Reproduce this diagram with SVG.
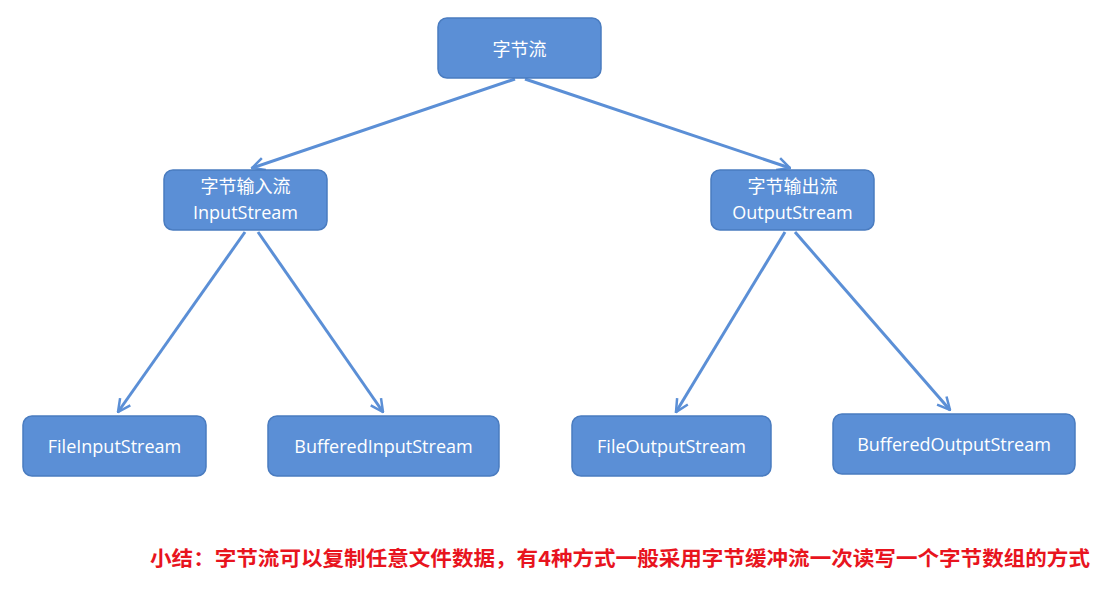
<svg xmlns="http://www.w3.org/2000/svg" width="1113" height="593" viewBox="0 0 1113 593">
<style>
.n{fill:#5b8fd6;stroke:#4a7cc0;stroke-width:1.5}
.t{fill:#fff;font-family:"Open Sans","Noto Sans CJK SC",sans-serif;font-size:18px;text-anchor:middle}
.c{stroke:#5b8fd6;stroke-width:3;fill:none;marker-end:url(#a)}
</style>
<defs><marker id="a" viewBox="0 0 12 12" refX="11" refY="6" markerWidth="5" markerHeight="5" orient="auto" markerUnits="strokeWidth"><path d="M1,1 L11,6 L1,11" fill="none" stroke="#5b8fd6" stroke-width="2"/></marker></defs>
<rect width="1113" height="593" fill="#fff"/>
<g id="connectors">
<line class="c" x1="515" y1="79" x2="252" y2="168"/>
<line class="c" x1="525" y1="79" x2="790" y2="168"/>
<line class="c" x1="245" y1="232" x2="118" y2="412"/>
<line class="c" x1="258" y1="232" x2="383" y2="412"/>
<line class="c" x1="785" y1="232" x2="676" y2="412"/>
<line class="c" x1="795" y1="232" x2="950" y2="410"/>
</g>
<g id="root"><rect class="n" x="438" y="18" width="163" height="60" rx="9"/><text class="t" x="519.5" y="56" font-size="21">字节流</text></g>
<g id="in"><rect class="n" x="164" y="170" width="163" height="60" rx="9"/><text class="t" x="245.5" y="193">字节输入流</text><text class="t" x="245.5" y="219">InputStream</text></g>
<g id="out"><rect class="n" x="711" y="170" width="163" height="60" rx="9"/><text class="t" x="792.5" y="193">字节输出流</text><text class="t" x="792.5" y="219">OutputStream</text></g>
<g id="fis"><rect class="n" x="23" y="416" width="183" height="60" rx="9"/><text class="t" x="114.5" y="453">FileInputStream</text></g>
<g id="bis"><rect class="n" x="268" y="416" width="231" height="60" rx="9"/><text class="t" x="383.5" y="453">BufferedInputStream</text></g>
<g id="fos"><rect class="n" x="572" y="416" width="199" height="60" rx="9"/><text class="t" x="671.5" y="453">FileOutputStream</text></g>
<g id="bos"><rect class="n" x="833" y="414" width="242" height="60" rx="9"/><text class="t" x="954" y="451">BufferedOutputStream</text></g>
<text x="150" y="566" fill="#e8141e" font-weight="bold" font-size="20.5" font-family="'Noto Sans CJK SC',sans-serif" textLength="940" lengthAdjust="spacingAndGlyphs">小结：字节流可以复制任意文件数据，有4种方式一般采用字节缓冲流一次读写一个字节数组的方式</text>
</svg>
